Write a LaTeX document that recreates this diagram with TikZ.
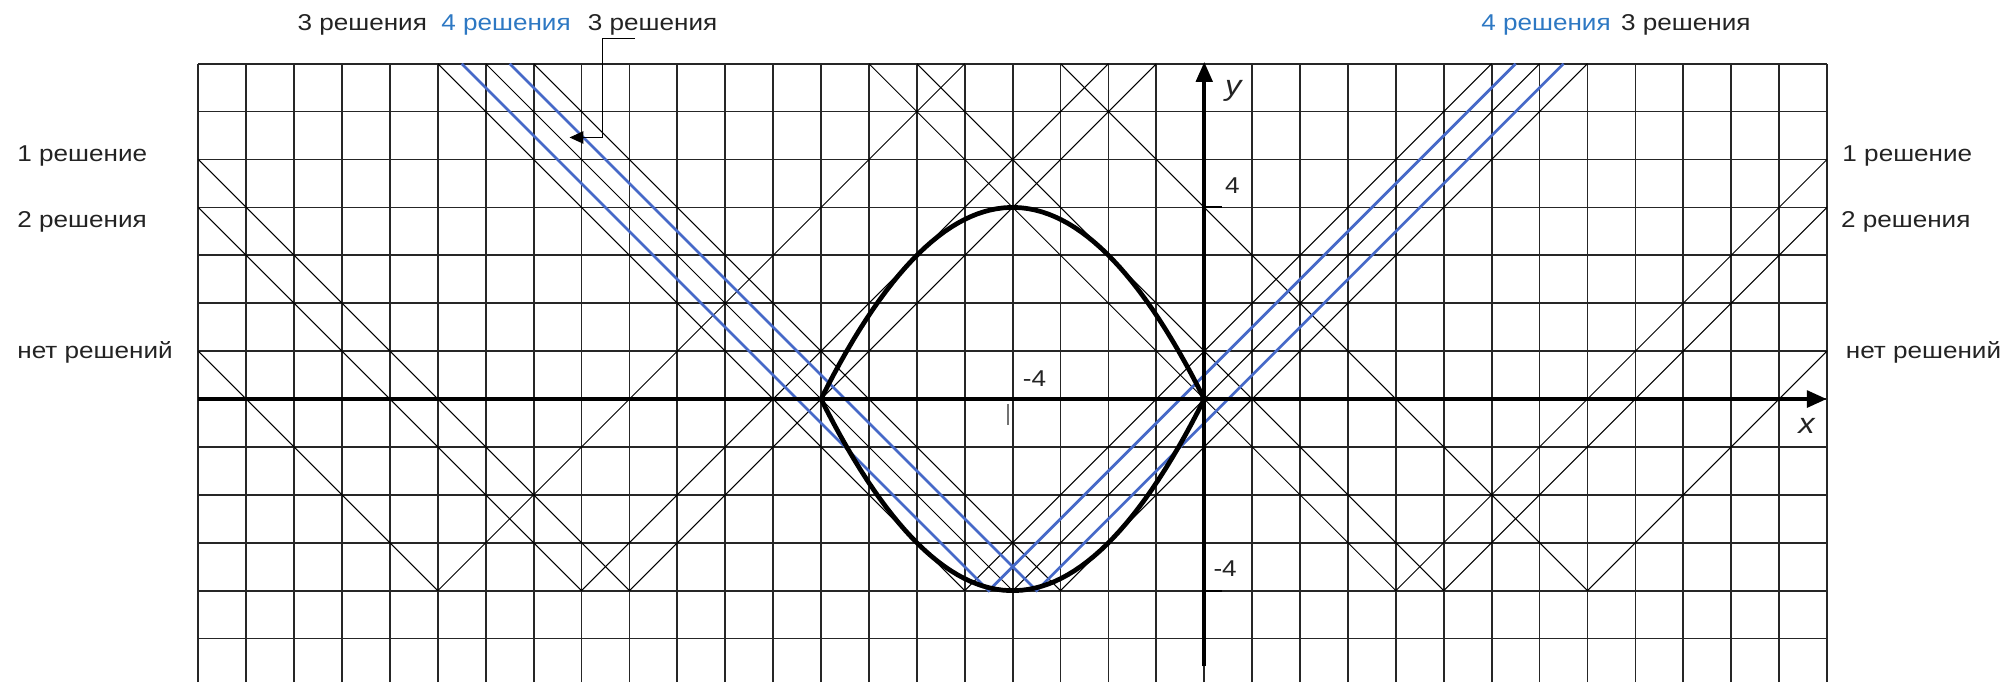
\documentclass[tikz,border=0pt]{standalone}
\usepackage{fontspec}
\setmainfont{Liberation Sans}[FakeStretch=1.14]
\usetikzlibrary{arrows.meta,positioning}
\definecolor{lineblue}{RGB}{70,105,200}
\definecolor{textblue}{RGB}{45,120,195}
\definecolor{textgray}{RGB}{35,35,35}
\tikzset{every picture/.style={line width=0.75pt}}

\begin{document}
\begin{tikzpicture}[
    lbl/.style={font=\fontsize{13.6}{16}\selectfont, text=textgray, inner sep=0pt, anchor=base west},
    axlbl/.style={font=\fontsize{17}{20}\selectfont\itshape, text=textgray, inner sep=0pt, anchor=base west},
    vline/.style={line width=0.6pt},
    bline/.style={lineblue, line width=1.6pt},
    curve/.style={line width=2.8pt, line join=round},
    axis/.style={line width=2.8pt, -{Triangle[length=0.42cm,width=0.34cm]}}
]
    % рамка рисунка
    \useasboundingbox (-25.14,-5.908) rectangle (16.82,8.33);

    % сетка
    \draw[line width=1.05pt, black!85] (-21,-5.908) grid (13,7);

    % уголки y = |x - a| - 4
    \begin{scope}
        \clip (-21,-5.908) rectangle (13,7);
        \foreach \a in {-16,-13,-12,-5,-4,-3,4,5,8}
            \draw[vline] (\a-11,7) -- (\a,-4) -- (\a+11,7);
        \foreach \a in {-4.5,-3.5}
            \draw[bline] (\a-11,7) -- (\a,-4) -- (\a+11,7);
    \end{scope}

    % кривая
    \draw[curve] plot[domain=-8:0, samples=60] (\x,{4-(\x+4)^2/4})
        -- plot[domain=0:-8, samples=60] (\x,{(\x+4)^2/4-4}) -- cycle;

    % оси
    \coordinate (xs) at (-21,0);
    \coordinate (xe) at (13,0);
    \coordinate (ys) at (0,-5.58);
    \coordinate (ye) at (0,7.04);
    \draw[axis] (xs) -- (xe);
    \draw[axis, line width=2.4pt] (ys) -- (ye);
    \node[axlbl] (xlab) at (12.39,-0.72) {x};
    \node[axlbl] (ylab) at (0.42,6.33) {y};

    % деления
    \draw[line width=1.2pt] (0,4) -- (0.36,4);
    \draw[line width=1.2pt] (0,-4) -- (0.38,-4);
    \draw[line width=1pt, black!55] (-4.1,-0.1) -- (-4.1,-0.55);
    \node[lbl] (ytop) at (0.42,4.29) {4};
    \node[lbl] (ybot) at (0.18,-3.71) {-4};
    \node[lbl] (xleft) at (-3.80,0.26) {-4};

    % подписи слева
    \node[lbl] (l1) at (-24.79,4.95) {1 решение};
    \node[lbl] (l2) at (-24.79,3.58) {2 решения};
    \node[lbl] (l0) at (-24.79,0.85) {нет решений};

    % подписи справа
    \node[lbl] (r1) at (13.31,4.95) {1 решение};
    \node[lbl] (r2) at (13.28,3.58) {2 решения};
    \node[lbl] (r0) at (13.38,0.84) {нет решений};

    % подписи сверху
    \node[lbl] (t1) at (-18.94,7.69) {3 решения};
    \node[lbl, text=textblue] (t2) at (-15.94,7.69) {4 решения};
    \node[lbl] (t3) at (-12.88,7.69) {3 решения};
    \node[lbl, text=textblue] (t4) at (5.77,7.69) {4 решения};
    \node[lbl] (t5) at (8.69,7.69) {3 решения};

    % выноска
    \coordinate (p1) at (-11.88,7.52);
    \coordinate (p2) at (-12.56,7.52);
    \coordinate (p3) at (-12.56,5.46);
    \coordinate (p4) at (-13.25,5.46);
    \draw[line width=0.6pt, -{Triangle[length=0.29cm,width=0.26cm]}] (p1) -- (p2) -- (p3) -- (p4);
\end{tikzpicture}
\end{document}
